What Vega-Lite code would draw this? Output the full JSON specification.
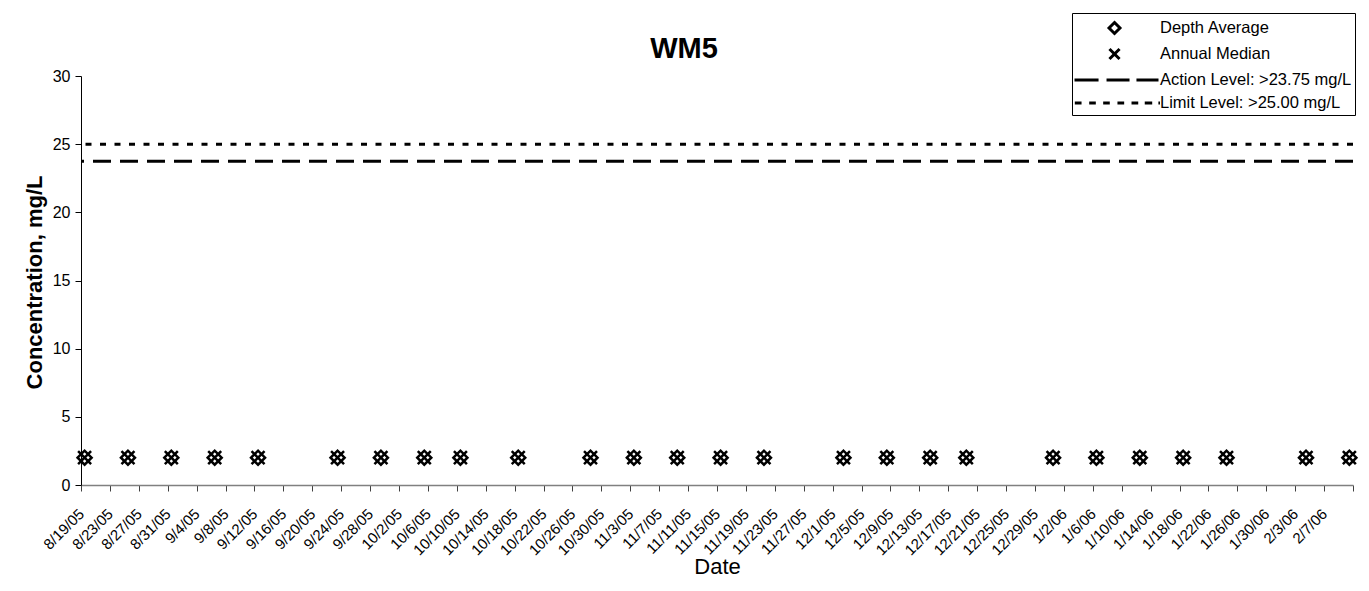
{
  "$schema": "https://vega.github.io/schema/vega-lite/v6.json",
  "width": 1272,
  "height": 409,
  "autosize": {"type": "none"},
  "padding": {"left": 81, "top": 76, "right": 16, "bottom": 106},
  "background": "white",
  "config": {"view": {"stroke": null}, "axis": {"labelOverlap": false}},
  "title": {"text": "WM5", "font": "Liberation Sans", "fontSize": 29, "fontWeight": "bold", "color": "black", "anchor": "middle", "dx": -33, "baseline": "alphabetic", "offset": 0, "dy": 74},
  "datasets": {
    "samples": [
      {"date": "2005-08-19T00:00:00", "depth_average": 2, "annual_median": 2},
      {"date": "2005-08-25T00:00:00", "depth_average": 2, "annual_median": 2},
      {"date": "2005-08-31T00:00:00", "depth_average": 2, "annual_median": 2},
      {"date": "2005-09-06T00:00:00", "depth_average": 2, "annual_median": 2},
      {"date": "2005-09-12T00:00:00", "depth_average": 2, "annual_median": 2},
      {"date": "2005-09-23T00:00:00", "depth_average": 2, "annual_median": 2},
      {"date": "2005-09-29T00:00:00", "depth_average": 2, "annual_median": 2},
      {"date": "2005-10-05T00:00:00", "depth_average": 2, "annual_median": 2},
      {"date": "2005-10-10T00:00:00", "depth_average": 2, "annual_median": 2},
      {"date": "2005-10-18T00:00:00", "depth_average": 2, "annual_median": 2},
      {"date": "2005-10-28T00:00:00", "depth_average": 2, "annual_median": 2},
      {"date": "2005-11-03T00:00:00", "depth_average": 2, "annual_median": 2},
      {"date": "2005-11-09T00:00:00", "depth_average": 2, "annual_median": 2},
      {"date": "2005-11-15T00:00:00", "depth_average": 2, "annual_median": 2},
      {"date": "2005-11-21T00:00:00", "depth_average": 2, "annual_median": 2},
      {"date": "2005-12-02T00:00:00", "depth_average": 2, "annual_median": 2},
      {"date": "2005-12-08T00:00:00", "depth_average": 2, "annual_median": 2},
      {"date": "2005-12-14T00:00:00", "depth_average": 2, "annual_median": 2},
      {"date": "2005-12-19T00:00:00", "depth_average": 2, "annual_median": 2},
      {"date": "2005-12-31T00:00:00", "depth_average": 2, "annual_median": 2},
      {"date": "2006-01-06T00:00:00", "depth_average": 2, "annual_median": 2},
      {"date": "2006-01-12T00:00:00", "depth_average": 2, "annual_median": 2},
      {"date": "2006-01-18T00:00:00", "depth_average": 2, "annual_median": 2},
      {"date": "2006-01-24T00:00:00", "depth_average": 2, "annual_median": 2},
      {"date": "2006-02-04T00:00:00", "depth_average": 2, "annual_median": 2},
      {"date": "2006-02-10T00:00:00", "depth_average": 2, "annual_median": 2}
    ],
    "levels": [
      {"name": "Action Level: >23.75 mg/L", "value": 23.75},
      {"name": "Limit Level: >25.00 mg/L", "value": 25}
    ],
    "series": [
      {"series": "Depth Average"},
      {"series": "Annual Median"},
      {"series": "Action Level: >23.75 mg/L"},
      {"series": "Limit Level: >25.00 mg/L"}
    ]
  },
  "layer": [
    {
      "data": {"name": "levels"},
      "mark": {"type": "rule", "strokeWidth": 3, "color": "black"},
      "encoding": {
        "y": {
          "field": "value", "type": "quantitative", "title": "Concentration, mg/L",
          "scale": {"domain": [0, 30], "nice": false, "zero": true},
          "axis": {
            "values": [0, 5, 10, 15, 20, 25, 30], "grid": false,
            "domainColor": "black", "tickColor": "black", "tickSize": 6, "domainWidth": 1,
            "labelFont": "Liberation Sans", "labelFontSize": 16, "labelColor": "black", "labelPadding": 5,
            "titleFont": "Liberation Sans", "titleFontSize": 22, "titleFontWeight": "bold", "titleColor": "black",
            "titleAngle": -90, "titleX": -40, "titleY": 206, "titleBaseline": "alphabetic", "titleAlign": "center"
          }
        },
        "strokeDash": {
          "field": "name", "type": "nominal", "legend": null,
          "scale": {"domain": ["Action Level: >23.75 mg/L", "Limit Level: >25.00 mg/L"], "range": [[18, 9], [6, 8.5]]}
        }
      }
    },
    {
      "data": {"name": "samples"},
      "mark": {"type": "point", "shape": "diamond", "size": 196, "filled": false, "strokeWidth": 2.5, "color": "black", "opacity": 1, "xOffset": 3.6},
      "encoding": {
        "x": {
          "field": "date", "type": "temporal", "title": "Date",
          "scale": {"domain": [{"year": 2005, "month": 8, "date": 19}, {"year": 2006, "month": 2, "date": 11}], "nice": false},
          "axis": {
            "values": [
              {"year": 2005, "month": 8, "date": 19}, {"year": 2005, "month": 8, "date": 23}, {"year": 2005, "month": 8, "date": 27}, {"year": 2005, "month": 8, "date": 31},
              {"year": 2005, "month": 9, "date": 4}, {"year": 2005, "month": 9, "date": 8}, {"year": 2005, "month": 9, "date": 12}, {"year": 2005, "month": 9, "date": 16},
              {"year": 2005, "month": 9, "date": 20}, {"year": 2005, "month": 9, "date": 24}, {"year": 2005, "month": 9, "date": 28}, {"year": 2005, "month": 10, "date": 2},
              {"year": 2005, "month": 10, "date": 6}, {"year": 2005, "month": 10, "date": 10}, {"year": 2005, "month": 10, "date": 14}, {"year": 2005, "month": 10, "date": 18},
              {"year": 2005, "month": 10, "date": 22}, {"year": 2005, "month": 10, "date": 26}, {"year": 2005, "month": 10, "date": 30}, {"year": 2005, "month": 11, "date": 3},
              {"year": 2005, "month": 11, "date": 7}, {"year": 2005, "month": 11, "date": 11}, {"year": 2005, "month": 11, "date": 15}, {"year": 2005, "month": 11, "date": 19},
              {"year": 2005, "month": 11, "date": 23}, {"year": 2005, "month": 11, "date": 27}, {"year": 2005, "month": 12, "date": 1}, {"year": 2005, "month": 12, "date": 5},
              {"year": 2005, "month": 12, "date": 9}, {"year": 2005, "month": 12, "date": 13}, {"year": 2005, "month": 12, "date": 17}, {"year": 2005, "month": 12, "date": 21},
              {"year": 2005, "month": 12, "date": 25}, {"year": 2005, "month": 12, "date": 29}, {"year": 2006, "month": 1, "date": 2}, {"year": 2006, "month": 1, "date": 6},
              {"year": 2006, "month": 1, "date": 10}, {"year": 2006, "month": 1, "date": 14}, {"year": 2006, "month": 1, "date": 18}, {"year": 2006, "month": 1, "date": 22},
              {"year": 2006, "month": 1, "date": 26}, {"year": 2006, "month": 1, "date": 30}, {"year": 2006, "month": 2, "date": 3}, {"year": 2006, "month": 2, "date": 7},
              {"year": 2006, "month": 2, "date": 11}
            ],
            "tickCount": 200,
            "labelExpr": "datum.value > time(datetime(2006, 1, 9)) ? '' : timeFormat(datum.value, '%-m/%-d/%y')",
            "grid": false, "labelAngle": -45, "labelAlign": "right", "labelBaseline": "middle", "labelOverlap": false, "labelBound": false, "labelFlush": false,
            "domainColor": "#808080", "domainWidth": 1.5, "tickColor": "#404040", "tickSize": 6,
            "labelFont": "Liberation Sans", "labelFontSize": 15, "labelColor": "black", "labelPadding": 20, "labelDx": -5.66, "labelDy": -5.66,
            "titleFont": "Liberation Sans", "titleFontSize": 22, "titleFontWeight": "normal", "titleColor": "black",
            "titleY": 88, "titleBaseline": "alphabetic"
          }
        },
        "y": {"field": "depth_average", "type": "quantitative", "title": "Concentration, mg/L"}
      }
    },
    {
      "data": {"name": "samples"},
      "mark": {"type": "point", "shape": "M-1,-1L1,1M-1,1L1,-1", "size": 169, "filled": false, "strokeWidth": 2.5, "color": "black", "opacity": 1, "xOffset": 3.6},
      "encoding": {
        "x": {"field": "date", "type": "temporal", "title": "Date"},
        "y": {"field": "annual_median", "type": "quantitative", "title": "Concentration, mg/L"}
      }
    },
    {
      "data": {"name": "series"},
      "mark": {"type": "point", "opacity": 0, "filled": false, "color": "black"},
      "encoding": {
        "shape": {
          "field": "series", "type": "nominal",
          "scale": {
            "domain": ["Depth Average", "Annual Median", "Action Level: >23.75 mg/L", "Limit Level: >25.00 mg/L"],
            "range": [
              "M2.62,-0.52L3.14,0L2.62,0.52L2.1,0Z",
              "M2.14,-0.48L3.1,0.48M2.14,0.48L3.1,-0.48",
              "M-1.19,0H1.1M1.86,0H4.05M4.71,0H6.81",
              "M-1.16,0H-0.52M0.21,0H0.84M1.54,0H2.17M2.9,0H3.54M4.24,0H4.88M5.5,0H6.21M6.8,0H6.95"
            ]
          },
          "legend": {
            "title": null, "orient": "none", "legendX": 991, "legendY": -63,
            "strokeColor": "black", "padding": 3, "fillColor": "white",
            "symbolSize": 441, "symbolStrokeWidth": 3, "symbolStrokeColor": "black", "symbolFillColor": "transparent", "symbolOpacity": 1,
            "labelFont": "Liberation Sans", "labelFontSize": 16.5, "labelColor": "black", "labelOffset": 61, "rowPadding": 2, "labelLimit": 400
          }
        }
      }
    }
  ]
}
